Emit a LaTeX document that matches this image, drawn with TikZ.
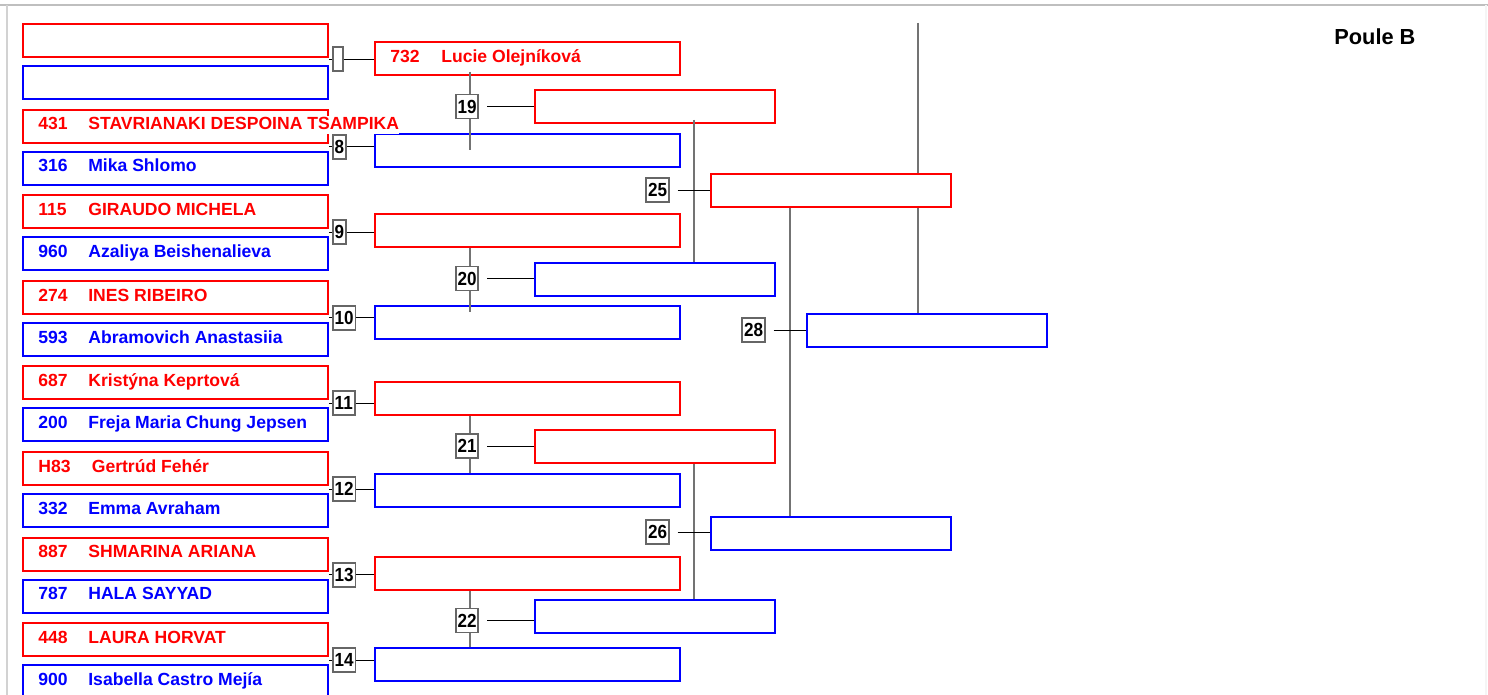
\documentclass[tikz,border=0pt]{standalone}
\usepackage{fontspec}
\setmainfont{Liberation Sans}
\newfontfamily\numfont[FakeStretch=0.9]{Liberation Sans}
\usetikzlibrary{positioning,calc}

\tikzset{
	pbox/.style={fill=white, line width=1.1pt, minimum width=6.1cm, minimum height=0.66cm, inner sep=0pt, anchor=north west},
	sbox/.style={pbox, minimum width=4.8cm},
	txt/.style={anchor=west, inner xsep=0pt, inner ysep=0.5pt, fill=white, text height=0.75em, text depth=0.2em, font=\fontsize{10}{12}\selectfont\bfseries},
	matchno/.style={draw=black!60, fill=white, line width=1.1pt, inner sep=1pt, minimum height=0.48cm, minimum width=0.2cm, font=\numfont\fontsize{10.8}{12}\selectfont\bfseries},
	link/.style={black, line width=0.5pt},
	vlink/.style={black!55, line width=0.9pt}
}

\begin{document}
\begin{tikzpicture}[x=0.02cm, y=-0.02cm]
	\clip (0,0) rectangle (1488,695);
	\fill[white] (0,0) rectangle (1488,695);

	%okvir
	\draw[gray!50, line width=1.5pt] (0,5) -- (1488,5);
	\draw[gray!35, line width=1.1pt] (7,5) -- (7,695);
	\draw[gray!8, line width=0.6pt] (1486,5) -- (1486,695);

	%drugi stupac
	\foreach \i/\c/\y in {7/red/41, 8/blue/133, 9/red/213, 10/blue/305,
		11/red/381, 12/blue/473, 13/red/556, 14/blue/647}
		\node[pbox, draw=\c] (w\i) at (374,\y) {};

	%prvi stupac
	\foreach \k/\rn/\rname/\bn/\bname [evaluate=\k as \m using int(\k+7)] in {
		0/{}/{}/{}/{},
		1/431/STAVRIANAKI DESPOINA TSAMPIKA/316/Mika Shlomo,
		2/115/GIRAUDO MICHELA/960/Azaliya Beishenalieva,
		3/274/INES RIBEIRO/593/Abramovich Anastasiia,
		4/687/Kristýna Keprtová/200/Freja Maria Chung Jepsen,
		5/H83/{\hspace{2pt}Gertrúd Fehér}/332/Emma Avraham,
		6/887/SHMARINA ARIANA/787/HALA SAYYAD,
		7/448/LAURA HORVAT/900/Isabella Castro Mejía}{
		\node[pbox, draw=red] (r\k) at (22,{23+85.6*\k}) {};
		\node[pbox, draw=blue] (b\k) at (22,{65+85.6*\k}) {};

		\node[txt, text=red] (rn\k) at ($(r\k.west)+(16,-1)$) {\rn};
		\node[txt, text=red] (rt\k) at ($(r\k.west)+(66,-1)$) {\rname};
		\node[txt, text=blue] (bn\k) at ($(b\k.west)+(16,-1)$) {\bn};
		\node[txt, text=blue] (bt\k) at ($(b\k.west)+(66,-1)$) {\bname};

		\ifnum\k=0
			\node[matchno, anchor=west] (m\m) at (332,{59+85.6*\k}) {};
		\else
			\node[matchno, anchor=west] (m\m) at (332,{61+85.6*\k}) {\m};
		\fi
		\draw[link] (r\k.east |- m\m) -- (m\m.west);
		\draw[link] (m\m.east) -- (w\m.west |- m\m);
	}

	\node[txt, text=red] (wn7) at ($(w7.west)+(16,-1)$) {732};
	\node[txt, text=red] (wt7) at ($(w7.west)+(67,-1)$) {Lucie Olejníková};

	%treci stupac i dalje
	\node[sbox, draw=red] (w19) at (534,89) {};
	\node[sbox, draw=blue] (w20) at (534,262) {};
	\node[sbox, draw=red] (w21) at (534,429) {};
	\node[sbox, draw=blue] (w22) at (534,599) {};

	\node[sbox, draw=red] (w25) at (710,173) {};
	\node[sbox, draw=blue] (w26) at (710,516) {};

	\node[sbox, draw=blue] (w28) at (806,313) {};

	%okomite linije
	\coordinate (j19) at (470,106);
	\coordinate (j25) at (694,188);
	\coordinate (j28) at (790,329);
	\coordinate (fin) at (918,23);

	\draw[vlink] ($(j19 |- w7.south)+(0,-4)$) -- (j19 |- w8.center);
	\draw[vlink] (j19 |- w9.south) -- ($(j19 |- w10.north)+(0,7)$);
	\draw[vlink] (j19 |- w11.south) -- (j19 |- w12.north);
	\draw[vlink] (j19 |- w13.south) -- (j19 |- w14.north);

	\draw[vlink] ($(j25 |- w19.south)+(0,-4)$) -- (j25 |- w20.north);
	\draw[vlink] (j25 |- w21.south) -- (j25 |- w22.north);

	\draw[vlink] (j28 |- w25.south) -- (j28 |- w26.north);

	\draw[vlink] (fin) -- (fin |- w25.north);
	\draw[vlink] (fin |- w25.south) -- (fin |- w28.north);

	%brojevi borbi
	\node[matchno] (m19) at (467,106.5) {19};
	\node[matchno] (m20) at (467,278.5) {20};
	\node[matchno] (m21) at (467,446) {21};
	\node[matchno] (m22) at (467,620.5) {22};
	\node[matchno] (m25) at (657.5,190) {25};
	\node[matchno] (m26) at (657.5,532) {26};
	\node[matchno] (m28) at (753.5,330) {28};

	\foreach \i in {19,20,21,22,25,26,28}
		\draw[link] ($(m\i.east)+(8,0)$) -- (w\i.west |- m\i);

	\node[anchor=west, inner sep=0pt, font=\fontsize{12.4}{14}\selectfont\bfseries] (poule) at (1334,36.5) {Poule B};

\end{tikzpicture}
\end{document}
